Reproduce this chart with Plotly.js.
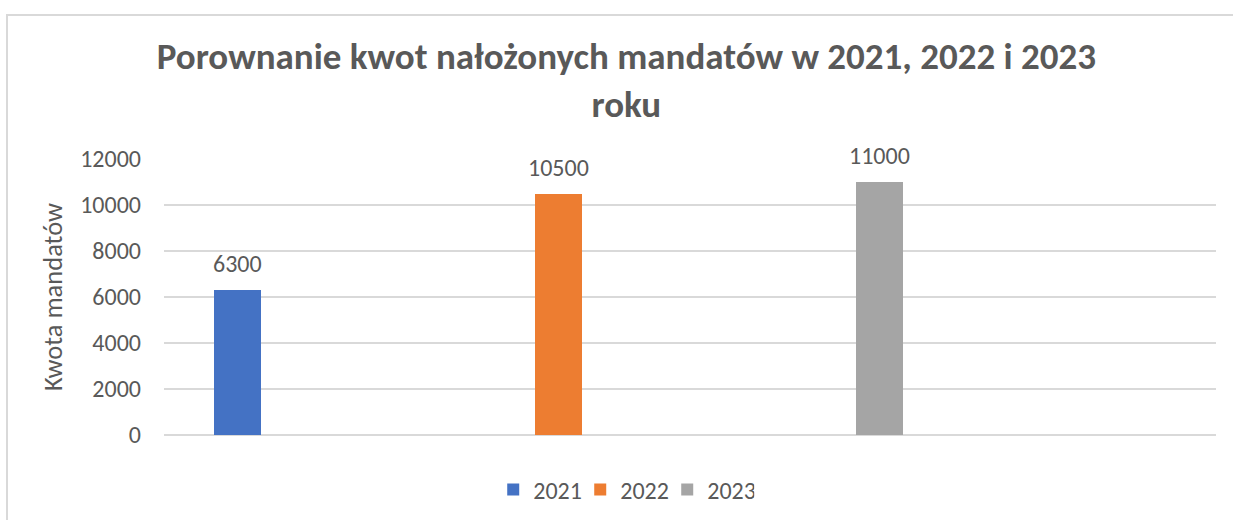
<!DOCTYPE html>
<html>
<head>
<meta charset="utf-8">
<script src="https://cdn.plot.ly/plotly-3.0.1.min.js"></script>
<style>
  html, body { margin: 0; padding: 0; background: #fff; overflow: hidden; }
  #chart { position: absolute; left: 0; top: 0; width: 1233px; height: 520px; }
  #frame { position: absolute; left: 6px; top: 14px; width: 1400px; height: 700px;
           border: 2px solid #d9d9d9; pointer-events: none; }
</style>
</head>
<body>
<div id="chart"></div>
<div id="frame"></div>
<script>
const years = ['2021', '2022', '2023'];
const values = [6300, 10500, 11000];
const colors = ['#4472C4', '#ED7D31', '#A5A5A5'];
const yTicks = [0, 2000, 4000, 6000, 8000, 10000, 12000];
const chartTitle = 'Porownanie kwot nałożonych mandatów w 2021, 2022 i 2023<br>roku';
const yTitle = 'Kwota mandatów';

const FONT = "Carlito, Lato, 'Open Sans', sans-serif";
const TXT = '#595959';

const traces = years.map((y, i) => ({
  type: 'bar',
  name: y,
  x: [i],
  y: [values[i]],
  width: 0.145,
  marker: { color: colors[i] },
  cliponaxis: false,
  hoverinfo: 'name+y'
}));

const labels = years.map((y, i) => ({
  x: i,
  y: values[i],
  xref: 'x',
  yref: 'y',
  text: String(values[i]),
  showarrow: false,
  xanchor: 'center',
  yanchor: 'bottom',
  yshift: 10,
  font: { family: FONT, size: 24, color: TXT }
}));

const layout = {
  width: 1233,
  height: 520,
  margin: { l: 164, r: 17, t: 159, b: 85, autoexpand: false },
  paper_bgcolor: 'rgba(0,0,0,0)',
  plot_bgcolor: 'rgba(0,0,0,0)',
  font: { family: FONT, color: TXT, size: 24 },
  title: {
    text: chartTitle,
    font: { family: FONT, size: 37, color: TXT, weight: 'bold' },
    x: 0.508,
    xanchor: 'center',
    xref: 'container',
    y: 0.867,
    yanchor: 'middle',
    yref: 'container'
  },
  annotations: labels,
  xaxis: {
    type: 'linear',
    range: [-0.229, 3.048],
    showgrid: false,
    zeroline: false,
    showline: false,
    showticklabels: false,
    ticks: '',
    fixedrange: true
  },
  yaxis: {
    range: [0, 12000],
    tickvals: yTicks,
    ticktext: yTicks.map(String),
    showgrid: true,
    gridcolor: '#D9D9D9',
    gridwidth: 1.5,
    zeroline: true,
    zerolinecolor: '#D9D9D9',
    zerolinewidth: 1.5,
    showline: false,
    ticks: '',
    ticklabelstandoff: 22,
    tickfont: { family: FONT, size: 24, color: TXT },
    title: { text: yTitle, font: { family: FONT, size: 26.5, color: TXT }, standoff: 9 },
    fixedrange: true
  },
  showlegend: true,
  legend: {
    orientation: 'h',
    x: 0.437,
    xanchor: 'center',
    y: -0.199,
    yanchor: 'middle',
    font: { family: FONT, size: 24, color: TXT },
    itemwidth: 30,
    entrywidth: 42,
    entrywidthmode: 'pixels',
    traceorder: 'normal'
  },
  bargap: 0
};

Plotly.newPlot('chart', traces, layout, { displayModeBar: false });
</script>
</body>
</html>
